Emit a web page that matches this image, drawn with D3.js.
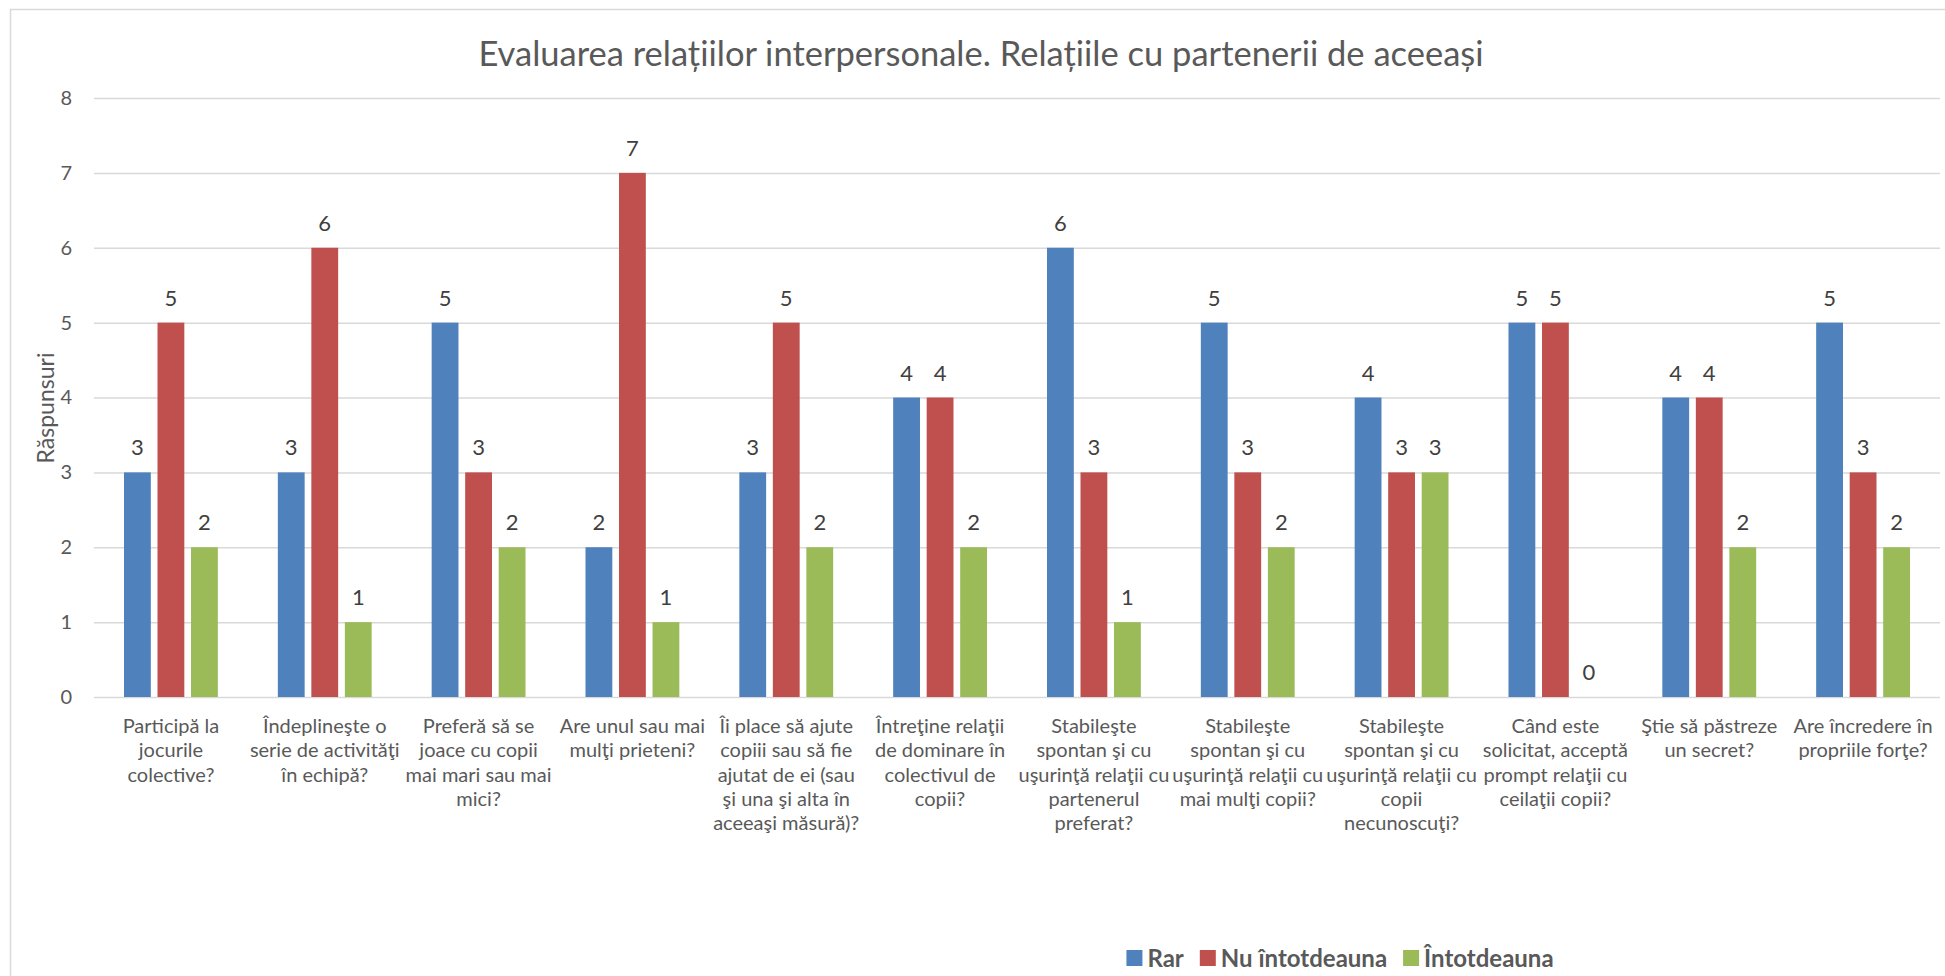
<!DOCTYPE html>
<html>
<head>
<meta charset="utf-8">
<script src="https://cdn.jsdelivr.net/npm/d3@7"></script>
<style>
  html, body { margin: 0; padding: 0; background: #fff; }
  svg { display: block; font-family: Lato, "Open Sans", sans-serif; }
</style>
</head>
<body>
<svg id="chart" width="1945" height="976"></svg>
<script>
// Question labels, one entry per line of wrapped text
const categories = [
  ["Participă la", "jocurile", "colective?"],
  ["Îndeplineşte o", "serie de activităţi", "în echipă?"],
  ["Preferă să se", "joace cu copii", "mai mari sau mai", "mici?"],
  ["Are unul sau mai", "mulţi prieteni?"],
  ["Îi place să ajute", "copiii sau să fie", "ajutat de ei (sau", "şi una şi alta în", "aceeaşi măsură)?"],
  ["Întreţine relaţii", "de dominare în", "colectivul de", "copii?"],
  ["Stabileşte", "spontan şi cu", "uşurinţă relaţii cu", "partenerul", "preferat?"],
  ["Stabileşte", "spontan şi cu", "uşurinţă relaţii cu", "mai mulţi copii?"],
  ["Stabileşte", "spontan şi cu", "uşurinţă relaţii cu", "copii", "necunoscuţi?"],
  ["Când este", "solicitat, acceptă", "prompt relaţii cu", "ceilaţii copii?"],
  ["Ştie să păstreze", "un secret?"],
  ["Are încredere în", "propriile forţe?"]
];

const seriesNames = ["Rar", "Nu întotdeauna", "Întotdeauna"];
const rar           = [3, 3, 5, 2, 3, 4, 6, 5, 4, 5, 4, 5];
const nuIntotdeauna = [5, 6, 3, 7, 5, 4, 3, 3, 3, 5, 4, 3];
const intotdeauna   = [2, 1, 2, 1, 2, 2, 1, 2, 3, 0, 2, 2];
const seriesColors  = ["#4F81BD", "#C0504D", "#9BBB59"];
const yTicks        = [0, 1, 2, 3, 4, 5, 6, 7, 8];

const titleText = "Evaluarea relațiilor interpersonale. Relațiile cu partenerii de aceeași";
const yTitle = "Răspunsuri";

const seriesValues = [rar, nuIntotdeauna, intotdeauna];
const keys = categories.map((c, i) => "c" + i);

const svg = d3.select("#chart");

// chart area outline
svg.append("rect")
  .attr("x", 10.5).attr("y", 9.5)
  .attr("width", 1960).attr("height", 1000)
  .attr("fill", "#fff").attr("stroke", "#D9D9D9").attr("stroke-width", 1.5);

const plot = { left: 94, right: 1940, top: 98, bottom: 697 };

const x0 = d3.scaleBand().domain(keys).range([plot.left, plot.right]).paddingInner(0).paddingOuter(0);
const bw = x0.bandwidth();
const x1 = d3.scaleBand().domain(seriesNames)
  .range([bw * 0.195, bw * 0.805]).paddingInner(0.2).paddingOuter(0);
const y = d3.scaleLinear().domain([0, 8]).range([plot.bottom, plot.top]);

// gridlines + y tick labels
const yAxis = svg.append("g")
  .attr("transform", `translate(${plot.left},0)`)
  .call(d3.axisLeft(y).tickValues(yTicks).tickSize(-(plot.right - plot.left)).tickPadding(22).tickFormat(d3.format("d")));
yAxis.select(".domain").remove();
yAxis.selectAll(".tick line").attr("stroke", "#D9D9D9").attr("stroke-width", 1.5);
yAxis.selectAll(".tick text")
  .attr("fill", "#595959").attr("font-size", 20).attr("font-family", "Lato, sans-serif");

// bars
const groups = svg.append("g").selectAll("g")
  .data(keys)
  .join("g")
  .attr("transform", d => `translate(${x0(d)},0)`);

groups.selectAll("rect")
  .data((k, i) => seriesNames.map((s, j) => ({ s, j, v: seriesValues[j][i] })))
  .join("rect")
  .attr("x", d => x1(d.s))
  .attr("width", x1.bandwidth())
  .attr("y", d => y(d.v))
  .attr("height", d => y(0) - y(d.v))
  .attr("fill", d => seriesColors[d.j]);

// value labels
groups.selectAll("text.val")
  .data((k, i) => seriesNames.map((s, j) => ({ s, j, v: seriesValues[j][i] })))
  .join("text")
  .attr("class", "val")
  .attr("x", d => x1(d.s) + x1.bandwidth() / 2)
  .attr("y", d => y(d.v) - 17)
  .attr("text-anchor", "middle")
  .attr("font-size", 22)
  .attr("fill", "#404040")
  .text(d => d.v);

// category labels
const catG = svg.append("g");
keys.forEach((k, i) => {
  const t = catG.append("text")
    .attr("x", x0(k) + bw / 2)
    .attr("y", 733)
    .attr("text-anchor", "middle")
    .attr("font-size", 20)
    .attr("fill", "#595959");
  categories[i].forEach((line, li) => {
    t.append("tspan")
      .attr("x", x0(k) + bw / 2)
      .attr("dy", li === 0 ? 0 : 24.3)
      .text(line);
  });
});

// title
svg.append("text")
  .attr("x", 981).attr("y", 66)
  .attr("text-anchor", "middle")
  .attr("font-size", 34.5)
  .attr("fill", "#595959")
  .text(titleText);

// y axis title
svg.append("text")
  .attr("transform", `translate(54,408) rotate(-90)`)
  .attr("text-anchor", "middle")
  .attr("font-size", 23)
  .attr("fill", "#595959")
  .text(yTitle);

// legend
const legend = svg.append("g");
let lx = 0;
seriesNames.forEach((name, j) => {
  const item = legend.append("g").attr("transform", `translate(${lx},0)`);
  item.append("rect").attr("x", 0).attr("y", -8).attr("width", 16).attr("height", 16).attr("fill", seriesColors[j]);
  const t = item.append("text")
    .attr("x", 21).attr("y", 8.5)
    .attr("font-size", 24).attr("font-weight", "bold")
    .attr("fill", "#595959")
    .text(name);
  lx += 21 + t.node().getComputedTextLength() + 16;
});
const legendW = lx - 16;
legend.attr("transform", `translate(${1340 - legendW / 2},958)`);
</script>
</body>
</html>
